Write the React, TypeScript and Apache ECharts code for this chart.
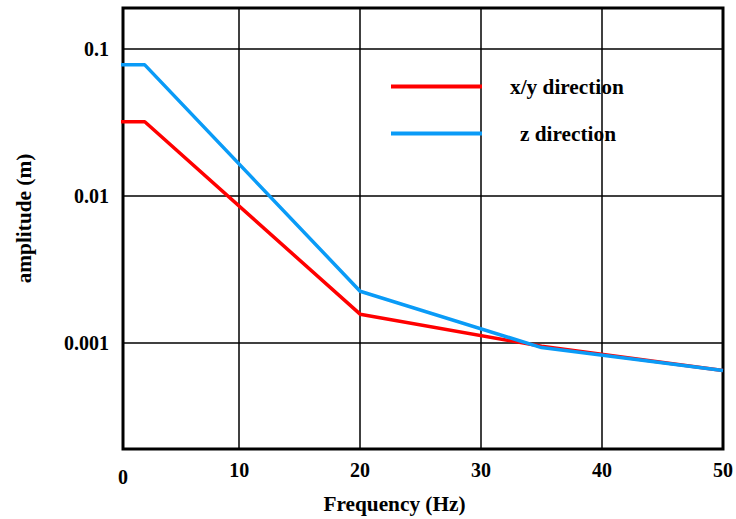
import React, { useEffect, useRef } from 'react';
import * as echarts from 'echarts';

const seriesNames = ['x/y direction', 'z direction'];
const xyFreq = [0, 2.2, 20, 35, 50];
const xyAmp = [0.032, 0.032, 0.00157, 0.00095, 0.00065];
const zFreq = [0, 2.2, 20, 35, 50];
const zAmp = [0.078, 0.078, 0.00225, 0.00093, 0.00065];
const yTickLabels = ['0.001', '0.01', '0.1'];

const FONT = 'Liberation Serif';

export default function App() {
  const ref = useRef<HTMLDivElement>(null);
  useEffect(() => {
    const chart = echarts.init(ref.current!, null, { renderer: 'svg' });
    const txt = { fontFamily: FONT, fontWeight: 'bold', fontSize: 20, color: '#000' };
    const big = { ...txt, fontSize: 21.3 };
    const legendCommon = {
      left: 389,
      itemWidth: 91,
      itemHeight: 24,
      padding: 0,
      selectedMode: false,
      itemStyle: { opacity: 0 },
      lineStyle: { width: 4 },
    };
    chart.setOption({
      animation: false,
      backgroundColor: '#fff',
      grid: {
        left: 123,
        right: 13,
        top: 8,
        bottom: 68,
        show: true,
        borderColor: '#000',
        borderWidth: 3,
        backgroundColor: 'transparent',
      },
      legend: [
        {
          ...legendCommon,
          data: [seriesNames[0]],
          top: 76,
          textStyle: { ...big, padding: [0, 0, 0, 23] },
        },
        {
          ...legendCommon,
          data: [seriesNames[1]],
          top: 123,
          textStyle: { ...big, padding: [0, 0, 0, 33] },
        },
      ],
      xAxis: {
        type: 'value',
        min: 0.4,
        max: 50,
        splitNumber: 5,
        name: 'Frequency (Hz)',
        nameLocation: 'middle',
        nameGap: 44,
        nameTextStyle: { ...big, padding: [0, 57, 0, 0] },
        axisLine: { show: false },
        axisTick: { show: false },
        splitLine: { show: true, lineStyle: { color: '#000', width: 1.5 } },
        axisLabel: {
          ...txt,
          margin: 11,
          showMinLabel: true,
          showMaxLabel: true,
          formatter: (v: number) => (v < 1 ? '{z|0}' : String(Math.round(v))),
          rich: { z: { ...txt, padding: [7, 0, 0, 0] } },
        },
      },
      yAxis: {
        type: 'log',
        min: 0.00019,
        max: 0.19,
        logBase: 10,
        name: 'amplitude (m)',
        nameLocation: 'middle',
        nameGap: 89,
        nameTextStyle: { ...big, padding: [0, 0, 0, 20] },
        axisLine: { show: false },
        axisTick: { show: false },
        splitLine: { show: true, lineStyle: { color: '#000', width: 1.5 } },
        axisLabel: {
          ...txt,
          margin: 14,
          showMinLabel: false,
          showMaxLabel: false,
          formatter: (v: number) => {
            const e = Math.round(Math.log10(v));
            return yTickLabels[e + 3] ?? '';
          },
        },
      },
      series: [
        {
          name: seriesNames[0],
          type: 'line',
          symbol: 'none',
          data: xyFreq.map((f, i) => [f, xyAmp[i]]),
          lineStyle: { color: '#ff0000', width: 3.5 },
          itemStyle: { color: '#ff0000' },
        },
        {
          name: seriesNames[1],
          type: 'line',
          symbol: 'none',
          data: zFreq.map((f, i) => [f, zAmp[i]]),
          lineStyle: { color: '#0a9bf7', width: 3.5 },
          itemStyle: { color: '#0a9bf7' },
        },
      ],
    });
    return () => chart.dispose();
  }, []);
  return (
    <div
      ref={ref}
      style={{ position: 'fixed', left: 0, top: 0, width: 736, height: 519, background: '#fff' }}
    />
  );
}
